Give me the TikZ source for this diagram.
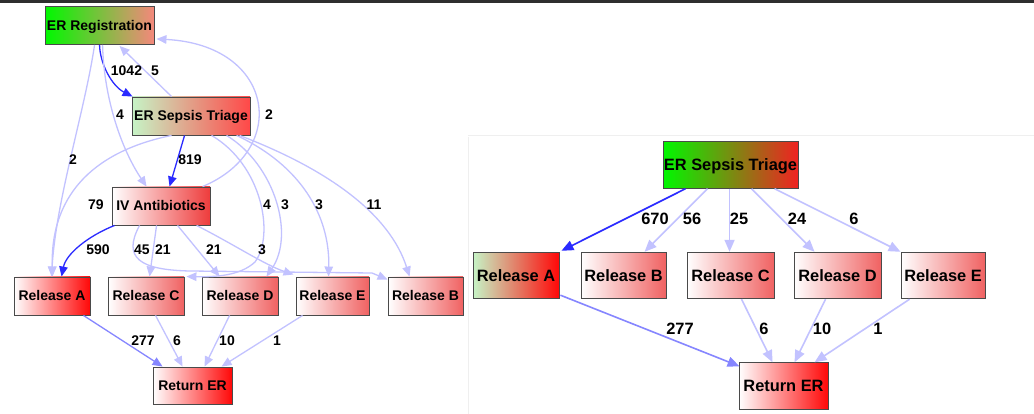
\documentclass[tikz,border=0pt]{standalone}
\usepackage{fontspec}
\setmainfont{Liberation Sans}
\usetikzlibrary{arrows.meta,calc}

\definecolor{topbar}{HTML}{2E2E2E}
\definecolor{panelline}{HTML}{EFEFEF}
\definecolor{boxline}{HTML}{4A4A4A}
\definecolor{darkedge}{HTML}{2A2AFF}
\definecolor{midedge}{HTML}{8686FF}
\definecolor{lightedge}{HTML}{C2C2FF}
\definecolor{vivgreen}{HTML}{00F800}
\definecolor{palegreen}{HTML}{C6F4C6}
\definecolor{salmonred}{HTML}{F4887C}
\definecolor{softred}{HTML}{FF4848}
\definecolor{relred}{HTML}{F06262}
\definecolor{ivred}{HTML}{EE3C3C}
\definecolor{deepred}{HTML}{FF0808}
\definecolor{olivebrown}{HTML}{9E6A24}
\definecolor{tanmid}{HTML}{D9A58E}
\definecolor{tanmidB}{HTML}{C88068}
\definecolor{hotred}{HTML}{F02222}

\tikzset{
  box/.style={draw=boxline, line width=0.9pt, inner sep=0pt, anchor=center,
    font=\bfseries\fontsize{14}{16}\selectfont, text height=10pt, text depth=0pt,
    minimum height=38pt},
  bigbox/.style={box, font=\bfseries\fontsize{16.4}{19}\selectfont,
    text height=11.8pt, minimum height=46.5pt},
  lab/.style={inner sep=0pt, anchor=center, font=\bfseries\fontsize{14}{16}\selectfont,
    text height=10pt, text depth=0pt},
  biglab/.style={lab, font=\bfseries\fontsize{16.4}{19}\selectfont, text height=11.8pt},
  lt/.style={draw=lightedge, line width=1.3pt, -{Triangle[length=10pt,width=8.5pt]}},
  md/.style={lt, draw=midedge},
  dk/.style={lt, draw=darkedge},
  Lt/.style={draw=lightedge, line width=1.6pt, -{Triangle[length=12pt,width=10pt]}},
  Md/.style={Lt, draw=midedge},
  Dk/.style={Lt, draw=darkedge},
}

\begin{document}
\begin{tikzpicture}[x=1pt, y=-1pt]
\useasboundingbox (0,0) rectangle (1034,414);
\fill[white] (0,0) rectangle (1034,414);
\fill[topbar] (0,0) rectangle (1034,2.6);
\draw[panelline, line width=0.8pt] (468,137) -- (468,414);
\draw[panelline, line width=0.8pt] (468,135) -- (1034,135);

% ---------- full process map ----------
\node[box, minimum width=109pt, left color=vivgreen, right color=salmonred] (reg) at (99.5,25.5) {ER Registration};
\node[box, minimum width=118pt, left color=palegreen, middle color=tanmid, right color=softred] (tri) at (191,116) {ER Sepsis Triage};
\node[box, minimum width=98pt, left color=white, right color=ivred] (iv) at (161,206) {IV Antibiotics};
\node[box, minimum width=76pt, left color=white, middle color=red!62!white, right color=deepred] (ra) at (52,296) {Release A};
\node[box, minimum width=76pt, left color=white, right color=relred] (rc) at (146,296) {Release C};
\node[box, minimum width=76pt, left color=white, right color=relred] (rd) at (240,296) {Release D};
\node[box, minimum width=73pt, left color=white, right color=relred] (re) at (332.5,296) {Release E};
\node[box, minimum width=75pt, left color=white, right color=relred] (rb) at (425.5,296) {Release B};
\node[box, minimum width=79pt, minimum height=37pt, left color=white, right color=deepred] (ret) at (192.5,385.5) {Return ER};

% connectors out of registration and triage
\draw[dk] ($(reg.south west)+(55,0)$) .. controls (100,64) and (112,86) .. ($(tri.north west)+(1,0)$);
\draw[lt] ($(tri.north west)+(40,0)$) -- ($(reg.south west)+(75,1)$);
\draw[lt] ($(reg.south west)+(58,0)$) .. controls (104,100) and (122,150) .. ($(iv.north west)+(35,0)$);
\draw[lt] ($(reg.south west)+(50,0)$) .. controls (85,110) and (56,200) .. ($(ra.north west)+(38,0)$);
\draw[lt] ($(iv.north west)+(91,0)$) .. controls (290,150) and (275,45) .. ($(reg.south east)+(2,-6)$);
\draw[dk] ($(tri.south west)+(53,0)$) -- ($(iv.north west)+(58,0)$);
\draw[lt] ($(tri.south west)+(40,0)$) .. controls (100,150) and (50,190) .. ($(ra.north west)+(39,0)$);
\draw[lt] ($(tri.south west)+(80,0)$) .. controls (262,165) and (275,235) .. (255,262)
   .. controls (240,276) and (215,277) .. ($(rc.north east)+(2,0)$);
\draw[lt] ($(tri.south west)+(95,0)$) .. controls (275,165) and (295,235) .. ($(rd.north east)+(-12,0)$);
\draw[lt] ($(tri.south west)+(105,0)$) .. controls (300,165) and (330,215) .. ($(re.north west)+(33,0)$);
\draw[lt] ($(tri.south west)+(108,0)$) .. controls (330,170) and (390,215) .. ($(rb.north west)+(22,0)$);

% connectors out of IV antibiotics
\draw[dk] ($(iv.south west)+(3,0)$) .. controls (88,236) and (66,254) .. ($(ra.north west)+(48,0)$);
\draw[lt] ($(iv.south west)+(28,0)$) .. controls (122,258) and (140,270) .. (190,271)
   -- (372,273) -- ($(rb.north west)+(0,3)$);
\draw[lt] ($(iv.south west)+(45,0)$) -- ($(rc.north west)+(42,0)$);
\draw[lt] ($(iv.south west)+(66,0)$) -- ($(rd.north west)+(18,0)$);
\draw[lt] ($(iv.south west)+(85,0)$) .. controls (235,245) and (265,265) .. ($(re.north west)+(-2,-2)$);

% connectors into return
\draw[md] ($(ra.south east)+(-7,0)$) -- ($(ret.north west)+(10,0)$);
\draw[lt] ($(rc.south west)+(48,0)$) -- ($(ret.north west)+(30,0)$);
\draw[lt] ($(rd.south west)+(28,0)$) -- ($(ret.north west)+(52,0)$);
\draw[lt] ($(re.south west)+(7,0)$) -- ($(ret.north west)+(69,0)$);

% edge counts
\node[lab] (n1042) at (126.5,70.5) {1042};
\node[lab] (n5) at (155,70.5) {5};
\node[lab] (n4a) at (120,115) {4};
\node[lab] (n2a) at (269,115) {2};
\node[lab] (n2b) at (73,160) {2};
\node[lab] (n819) at (190,160) {819};
\node[lab] (n79) at (96,205) {79};
\node[lab] (n4b) at (267,205) {4};
\node[lab] (n3a) at (285,205) {3};
\node[lab] (n3b) at (319,205) {3};
\node[lab] (n11) at (374,205) {11};
\node[lab] (n590) at (98,250) {590};
\node[lab] (n45) at (142,250) {45};
\node[lab] (n21a) at (163,250) {21};
\node[lab] (n21b) at (214,250) {21};
\node[lab] (n3c) at (262,250) {3};
\node[lab] (n277) at (143,340) {277};
\node[lab] (n6) at (177,340) {6};
\node[lab] (n10) at (227,340) {10};
\node[lab] (n1) at (277,340) {1};

% ---------- triage-only process map ----------
\node[bigbox, minimum width=135pt, left color=vivgreen, middle color=olivebrown, right color=hotred] (Rtri) at (730.5,165) {ER Sepsis Triage};
\node[bigbox, minimum width=86pt, left color=palegreen, middle color=tanmidB, right color=deepred] (Ra) at (516,275.5) {Release A};
\node[bigbox, minimum width=85pt, left color=white, right color=relred] (Rb) at (623.5,275.5) {Release B};
\node[bigbox, minimum width=87pt, left color=white, right color=relred] (Rc) at (730.5,275.5) {Release C};
\node[bigbox, minimum width=87pt, left color=white, right color=relred] (Rd) at (837.5,275.5) {Release D};
\node[bigbox, minimum width=84pt, left color=white, right color=relred] (Re) at (943,275.5) {Release E};
\node[bigbox, minimum width=89pt, left color=white, right color=deepred] (Rret) at (783.5,386) {Return ER};

\draw[Dk] ($(Rtri.south west)+(23,0)$) -- ($(Ra.north east)+(2,-1)$);
\draw[Lt] ($(Rtri.south west)+(45,0)$) -- ($(Rb.north west)+(64,0)$);
\draw[Lt] ($(Rtri.south west)+(67,0)$) -- ($(Rc.north west)+(43,0)$);
\draw[Lt] ($(Rtri.south west)+(89,0)$) -- ($(Rd.north west)+(21,0)$);
\draw[Lt] ($(Rtri.south west)+(112,0)$) -- ($(Re.north west)+(0,0)$);
\draw[Md] ($(Ra.south east)+(1,-4)$) -- ($(Rret.north west)+(1,4)$);
\draw[Lt] ($(Rc.south west)+(55,0)$) -- ($(Rret.north west)+(34,0)$);
\draw[Lt] ($(Rd.south west)+(32,0)$) -- ($(Rret.north west)+(56,0)$);
\draw[Lt] ($(Re.south west)+(9,0)$) -- ($(Rret.north west)+(76,0)$);

\node[biglab] (m670) at (655,219) {670};
\node[biglab] (m56) at (692,219) {56};
\node[biglab] (m25) at (739,219) {25};
\node[biglab] (m24) at (797,219) {24};
\node[biglab] (m6a) at (854,219) {6};
\node[biglab] (m277) at (680,329) {277};
\node[biglab] (m6b) at (764,329) {6};
\node[biglab] (m10) at (822,329) {10};
\node[biglab] (m1) at (878,329) {1};
\end{tikzpicture}
\end{document}
